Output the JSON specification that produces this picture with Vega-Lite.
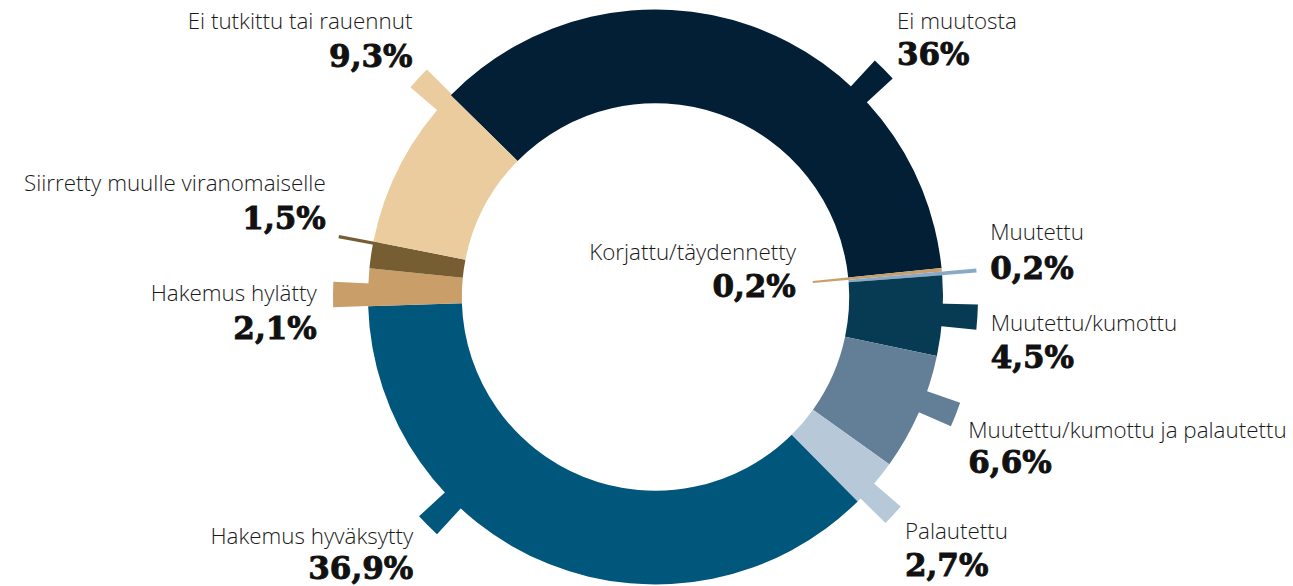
{
  "$schema": "https://vega.github.io/schema/vega-lite/v6.json",
  "width": 1275,
  "height": 578,
  "autosize": "none",
  "padding": {"left": 18, "top": 8, "right": 0, "bottom": 0},
  "background": "white",
  "view": {"stroke": null},
  "config": {
    "text": {"baseline": "alphabetic"}
  },
  "data": {"values": [
    {"order": 1, "category": "Ei muutosta", "value": 36.0, "label": "36%"},
    {"order": 2, "category": "Korjattu/täydennetty", "value": 0.2, "label": "0,2%"},
    {"order": 3, "category": "Muutettu", "value": 0.2, "label": "0,2%"},
    {"order": 4, "category": "Muutettu/kumottu", "value": 4.5, "label": "4,5%"},
    {"order": 5, "category": "Muutettu/kumottu ja palautettu", "value": 6.6, "label": "6,6%"},
    {"order": 6, "category": "Palautettu", "value": 2.7, "label": "2,7%"},
    {"order": 7, "category": "Hakemus hyväksytty", "value": 36.9, "label": "36,9%"},
    {"order": 8, "category": "Hakemus hylätty", "value": 2.1, "label": "2,1%"},
    {"order": 9, "category": "Siirretty muulle viranomaiselle", "value": 1.5, "label": "1,5%"},
    {"order": 10, "category": "Ei tutkittu tai rauennut", "value": 9.3, "label": "9,3%"}
  ]},
  "transform": [
    {"stack": "value", "groupby": [], "sort": [{"field": "order", "order": "ascending"}], "as": ["s0", "s1"]}
  ],
  "encoding": {
    "theta": {"field": "s0", "type": "quantitative", "stack": null, "scale": {"domain": [0, 100], "range": [-0.79238, 5.49081]}},
    "color": {
      "field": "category", "type": "nominal", "legend": null,
      "scale": {
        "domain": ["Ei muutosta", "Korjattu/täydennetty", "Muutettu", "Muutettu/kumottu", "Muutettu/kumottu ja palautettu", "Palautettu", "Hakemus hyväksytty", "Hakemus hylätty", "Siirretty muulle viranomaiselle", "Ei tutkittu tai rauennut"],
        "range": ["#021f36", "#c99e69", "#8aa9c6", "#073a53", "#637f98", "#b7c8d8", "#00567b", "#c99e69", "#765d32", "#eacc9e"]
      }
    }
  },
  "layer": [
    {"transform": [{"filter": "datum.category === 'Ei muutosta'"}], "mark": {"type": "arc", "radius": 322.5, "radius2": 280, "thetaOffset": 1.54025, "theta2Offset": 1.61879}, "encoding": {"theta2": {"field": "s0"}}},
    {"transform": [{"filter": "datum.category === 'Muutettu/kumottu'"}], "mark": {"type": "arc", "radius": 322.5, "radius2": 280, "thetaOffset": 0.09966, "theta2Offset": 0.1782}, "encoding": {"theta2": {"field": "s0"}}},
    {"transform": [{"filter": "datum.category === 'Muutettu/kumottu ja palautettu'"}], "mark": {"type": "arc", "radius": 322.5, "radius2": 280, "thetaOffset": 0.12758, "theta2Offset": 0.20612}, "encoding": {"theta2": {"field": "s0"}}},
    {"transform": [{"filter": "datum.category === 'Palautettu'"}], "mark": {"type": "arc", "radius": 322.5, "radius2": 280, "thetaOffset": 0.08552, "theta2Offset": 0.15533}, "encoding": {"theta2": {"field": "s0"}}},
    {"transform": [{"filter": "datum.category === 'Hakemus hyväksytty'"}], "mark": {"type": "arc", "radius": 322.5, "radius2": 280, "thetaOffset": 1.5242, "theta2Offset": 1.60274}, "encoding": {"theta2": {"field": "s0"}}},
    {"transform": [{"filter": "datum.category === 'Hakemus hylätty'"}], "mark": {"type": "arc", "radius": 322.5, "radius2": 280, "thetaOffset": 0.0007, "theta2Offset": 0.07924}, "encoding": {"theta2": {"field": "s0"}}},
    {"transform": [{"filter": "datum.category === 'Siirretty muulle viranomaiselle'"}], "mark": {"type": "arc", "radius": 322.5, "radius2": 280, "thetaOffset": 0.08343, "theta2Offset": 0.0939}, "encoding": {"theta2": {"field": "s0"}}},
    {"transform": [{"filter": "datum.category === 'Ei tutkittu tai rauennut'"}], "mark": {"type": "arc", "radius": 322.5, "radius2": 280, "thetaOffset": 0.51365, "theta2Offset": 0.5887}, "encoding": {"theta2": {"field": "s0"}}},
    {"transform": [{"filter": "datum.category === 'Muutettu'"}], "mark": {"type": "arc", "radius": 322, "radius2": 280}, "encoding": {"theta2": {"field": "s1"}}},
    {"transform": [{"filter": "datum.category === 'Korjattu/täydennetty'"}], "mark": {"type": "arc", "radius": 195, "radius2": 158}, "encoding": {"theta2": {"field": "s1"}}},
    {"mark": {"type": "arc", "radius": 287.5, "radius2": 193.7}, "encoding": {"theta2": {"field": "s1"}}},

    {"transform": [{"filter": "datum.category === 'Ei muutosta'"}], "mark": {"type": "text", "radius": 322.5, "thetaOffset": 1.57952, "align": "left", "dx": 13, "dy": -40, "font": "Open Sans", "fontWeight": 300, "fontSize": 22.4}, "encoding": {"text": {"field": "category"}, "color": {"value": "#1a1a1a"}}},
    {"transform": [{"filter": "datum.category === 'Ei muutosta'"}], "mark": {"type": "text", "radius": 322.5, "thetaOffset": 1.57952, "align": "left", "dx": 13, "dy": -4.4, "font": "DejaVu Serif", "fontWeight": "bold", "fontSize": 31, "stroke": "#111111", "strokeWidth": 0.9}, "encoding": {"text": {"field": "label"}, "color": {"value": "#111111"}}},

    {"transform": [{"filter": "datum.category === 'Korjattu/täydennetty'"}], "mark": {"type": "text", "radius": 158, "thetaOffset": 0.00628, "align": "right", "dx": -16.8, "dy": -22, "font": "Open Sans", "fontWeight": 300, "fontSize": 22.4}, "encoding": {"text": {"field": "category"}, "color": {"value": "#1a1a1a"}}},
    {"transform": [{"filter": "datum.category === 'Korjattu/täydennetty'"}], "mark": {"type": "text", "radius": 158, "thetaOffset": 0.00628, "align": "right", "dx": -17, "dy": 15.3, "font": "DejaVu Serif", "fontWeight": "bold", "fontSize": 31, "stroke": "#111111", "strokeWidth": 0.9}, "encoding": {"text": {"field": "label"}, "color": {"value": "#111111"}}},

    {"transform": [{"filter": "datum.category === 'Muutettu'"}], "mark": {"type": "text", "radius": 322, "thetaOffset": 0.00628, "align": "left", "dx": 13.8, "dy": -30.5, "font": "Open Sans", "fontWeight": 300, "fontSize": 22.4}, "encoding": {"text": {"field": "category"}, "color": {"value": "#1a1a1a"}}},
    {"transform": [{"filter": "datum.category === 'Muutettu'"}], "mark": {"type": "text", "radius": 322, "thetaOffset": 0.00628, "align": "left", "dx": 13.8, "dy": 8.8, "font": "DejaVu Serif", "fontWeight": "bold", "fontSize": 31, "stroke": "#111111", "strokeWidth": 0.9}, "encoding": {"text": {"field": "label"}, "color": {"value": "#111111"}}},

    {"transform": [{"filter": "datum.category === 'Muutettu/kumottu'"}], "mark": {"type": "text", "radius": 322.5, "thetaOffset": 0.13893, "align": "left", "dx": 13.3, "dy": 13.4, "font": "Open Sans", "fontWeight": 300, "fontSize": 22.4}, "encoding": {"text": {"field": "category"}, "color": {"value": "#1a1a1a"}}},
    {"transform": [{"filter": "datum.category === 'Muutettu/kumottu'"}], "mark": {"type": "text", "radius": 322.5, "thetaOffset": 0.13893, "align": "left", "dx": 13.3, "dy": 50.4, "font": "DejaVu Serif", "fontWeight": "bold", "fontSize": 31, "stroke": "#111111", "strokeWidth": 0.9}, "encoding": {"text": {"field": "label"}, "color": {"value": "#111111"}}},

    {"transform": [{"filter": "datum.category === 'Muutettu/kumottu ja palautettu'"}], "mark": {"type": "text", "radius": 322.5, "thetaOffset": 0.16685, "align": "left", "dx": 12.5, "dy": 23.6, "font": "Open Sans", "fontWeight": 300, "fontSize": 22.4}, "encoding": {"text": {"field": "category"}, "color": {"value": "#1a1a1a"}}},
    {"transform": [{"filter": "datum.category === 'Muutettu/kumottu ja palautettu'"}], "mark": {"type": "text", "radius": 322.5, "thetaOffset": 0.16685, "align": "left", "dx": 12.5, "dy": 58.6, "font": "DejaVu Serif", "fontWeight": "bold", "fontSize": 31, "stroke": "#111111", "strokeWidth": 0.9}, "encoding": {"text": {"field": "label"}, "color": {"value": "#111111"}}},

    {"transform": [{"filter": "datum.category === 'Palautettu'"}], "mark": {"type": "text", "radius": 322.5, "thetaOffset": 0.12043, "align": "left", "dx": 11.7, "dy": 24.4, "font": "Open Sans", "fontWeight": 300, "fontSize": 22.4}, "encoding": {"text": {"field": "category"}, "color": {"value": "#1a1a1a"}}},
    {"transform": [{"filter": "datum.category === 'Palautettu'"}], "mark": {"type": "text", "radius": 322.5, "thetaOffset": 0.12043, "align": "left", "dx": 11.7, "dy": 61.1, "font": "DejaVu Serif", "fontWeight": "bold", "fontSize": 31, "stroke": "#111111", "strokeWidth": 0.9}, "encoding": {"text": {"field": "label"}, "color": {"value": "#111111"}}},

    {"transform": [{"filter": "datum.category === 'Hakemus hyväksytty'"}], "mark": {"type": "text", "radius": 322.5, "thetaOffset": 1.56347, "align": "right", "dx": -14.6, "dy": 18.5, "font": "Open Sans", "fontWeight": 300, "fontSize": 22.4}, "encoding": {"text": {"field": "category"}, "color": {"value": "#1a1a1a"}}},
    {"transform": [{"filter": "datum.category === 'Hakemus hyväksytty'"}], "mark": {"type": "text", "radius": 322.5, "thetaOffset": 1.56347, "align": "right", "dx": -14.6, "dy": 53.5, "font": "DejaVu Serif", "fontWeight": "bold", "fontSize": 31, "stroke": "#111111", "strokeWidth": 0.9}, "encoding": {"text": {"field": "label"}, "color": {"value": "#111111"}}},

    {"transform": [{"filter": "datum.category === 'Hakemus hylätty'"}], "mark": {"type": "text", "radius": 322.5, "thetaOffset": 0.03997, "align": "right", "dx": -16.3, "dy": 7, "font": "Open Sans", "fontWeight": 300, "fontSize": 22.4}, "encoding": {"text": {"field": "category"}, "color": {"value": "#1a1a1a"}}},
    {"transform": [{"filter": "datum.category === 'Hakemus hylätty'"}], "mark": {"type": "text", "radius": 322.5, "thetaOffset": 0.03997, "align": "right", "dx": -16.3, "dy": 44.3, "font": "DejaVu Serif", "fontWeight": "bold", "fontSize": 31, "stroke": "#111111", "strokeWidth": 0.9}, "encoding": {"text": {"field": "label"}, "color": {"value": "#111111"}}},

    {"transform": [{"filter": "datum.category === 'Siirretty muulle viranomaiselle'"}], "mark": {"type": "text", "radius": 322.5, "thetaOffset": 0.08866, "align": "right", "dx": -13, "dy": -46, "font": "Open Sans", "fontWeight": 300, "fontSize": 22.4}, "encoding": {"text": {"field": "category"}, "color": {"value": "#1a1a1a"}}},
    {"transform": [{"filter": "datum.category === 'Siirretty muulle viranomaiselle'"}], "mark": {"type": "text", "radius": 322.5, "thetaOffset": 0.08866, "align": "right", "dx": -13, "dy": -7.3, "font": "DejaVu Serif", "fontWeight": "bold", "fontSize": 31, "stroke": "#111111", "strokeWidth": 0.9}, "encoding": {"text": {"field": "label"}, "color": {"value": "#111111"}}},

    {"transform": [{"filter": "datum.category === 'Ei tutkittu tai rauennut'"}], "mark": {"type": "text", "radius": 322.5, "thetaOffset": 0.55117, "align": "right", "dx": -6, "dy": -49, "font": "Open Sans", "fontWeight": 300, "fontSize": 22.4}, "encoding": {"text": {"field": "category"}, "color": {"value": "#1a1a1a"}}},
    {"transform": [{"filter": "datum.category === 'Ei tutkittu tai rauennut'"}], "mark": {"type": "text", "radius": 322.5, "thetaOffset": 0.55117, "align": "right", "dx": -6, "dy": -11.7, "font": "DejaVu Serif", "fontWeight": "bold", "fontSize": 31, "stroke": "#111111", "strokeWidth": 0.9}, "encoding": {"text": {"field": "label"}, "color": {"value": "#111111"}}}
  ]
}
